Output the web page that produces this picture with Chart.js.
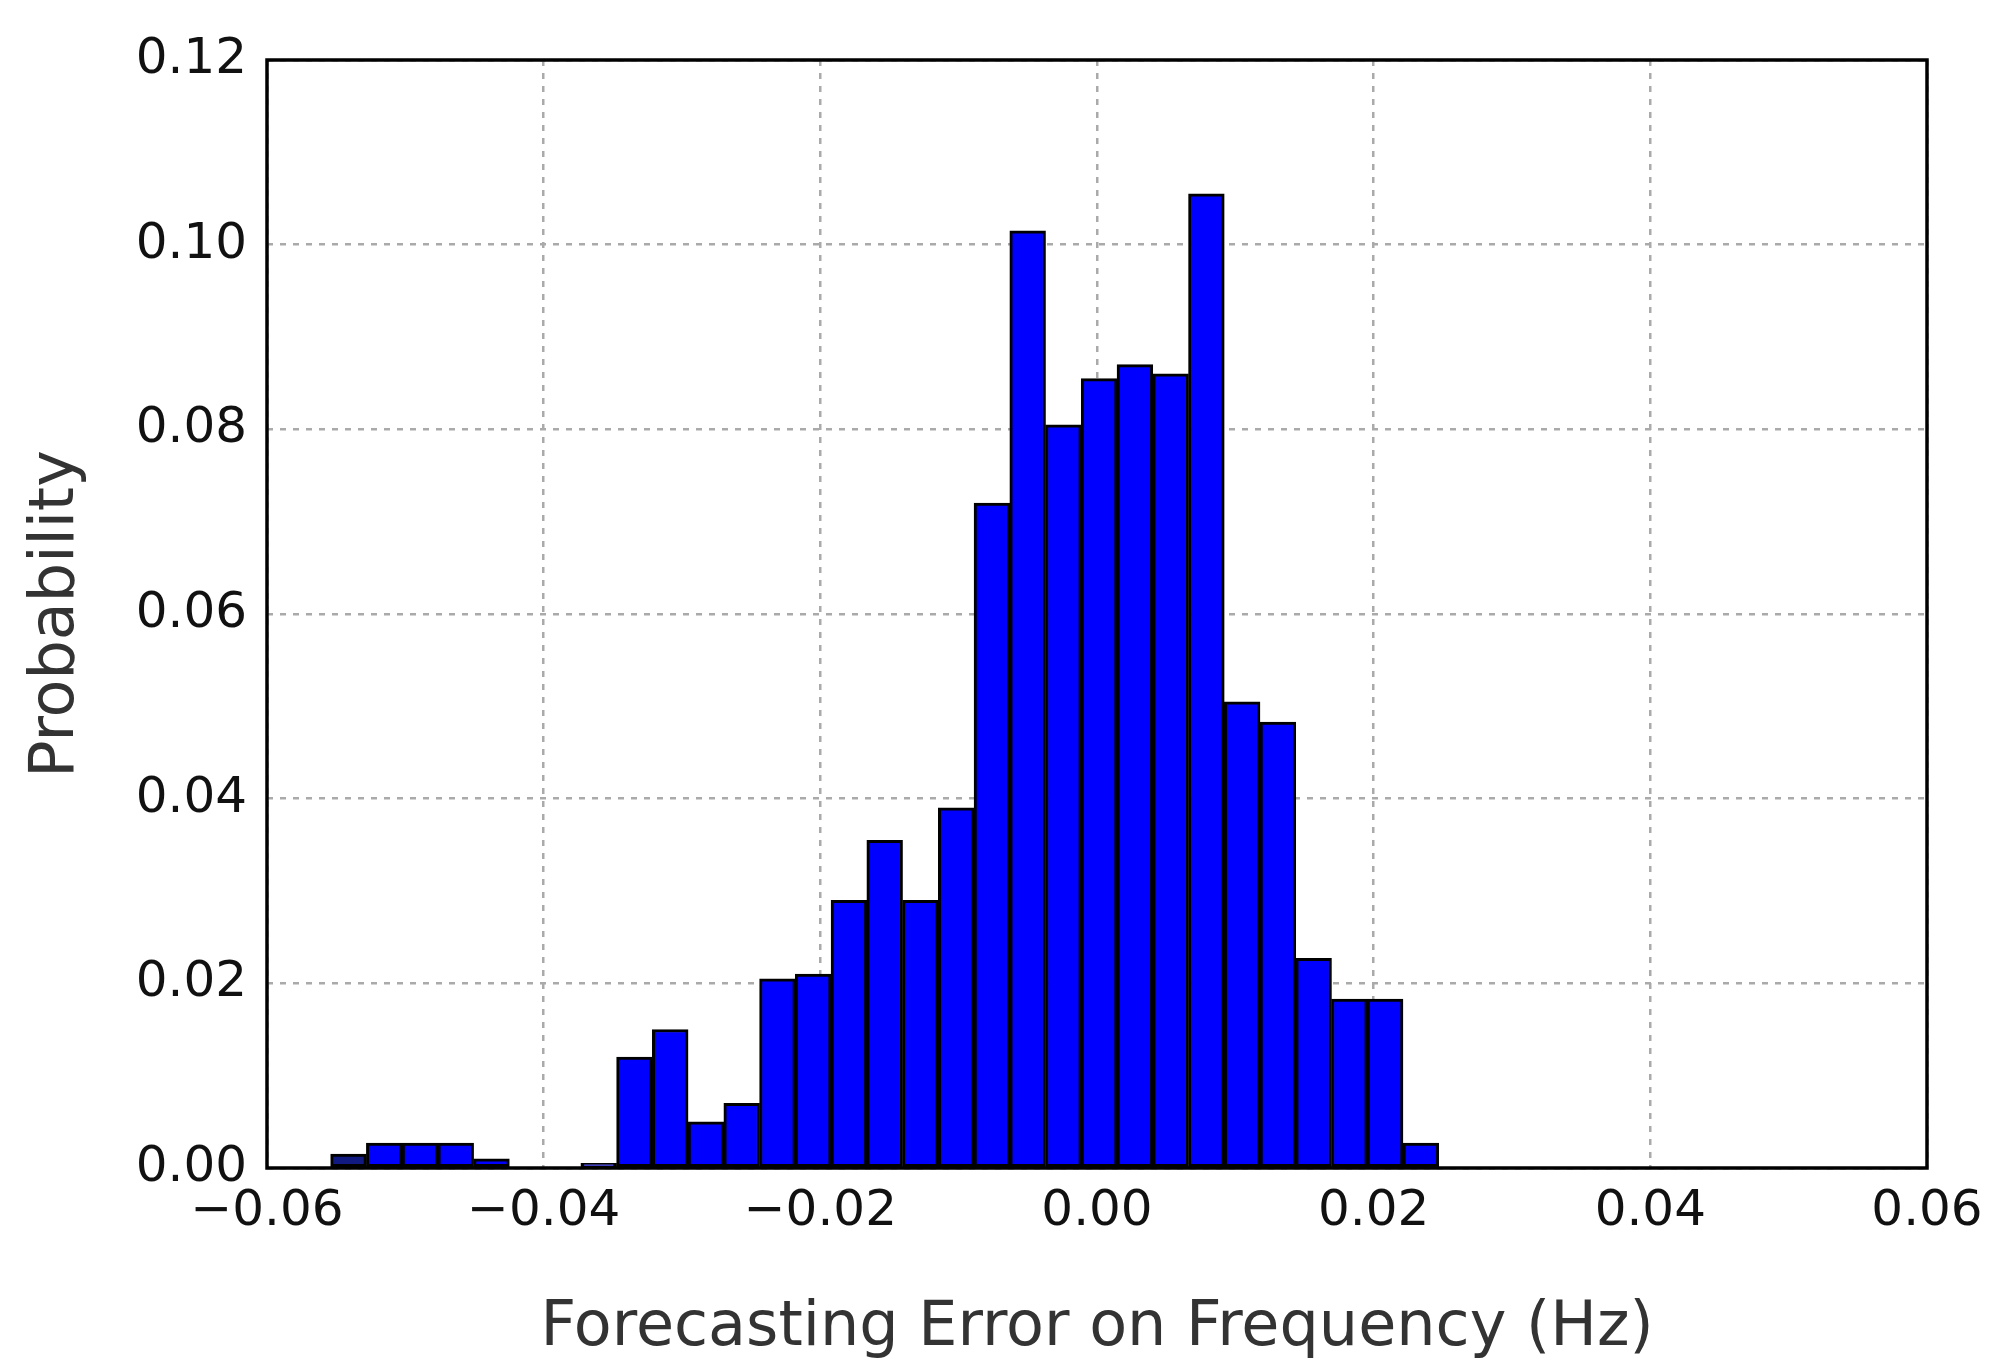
<!DOCTYPE html>
<html><head><meta charset="utf-8">
<script src="https://cdn.jsdelivr.net/npm/chart.js@4"></script>
<style>html,body{margin:0;padding:0;background:#fff}#w{width:2002px;height:1370px}</style>
</head><body><div id="w"><canvas id="c"></canvas></div>
<script>
const binStart = -0.0554;
const binWidth = 0.002584;
const probabilities = [0.0015,0.0027,0.0027,0.0027,0.001,0,0,0.0005,0.012,0.015,0.005,0.007,0.0205,0.021,0.029,0.0355,0.029,0.039,0.072,0.1015,0.0805,0.0855,0.087,0.086,0.1055,0.0505,0.0483,0.0227,0.0183,0.0183,0.0027];
const xTicks = [-0.06,-0.04,-0.02,0,0.02,0.04,0.06];
const yTicks = [0,0.02,0.04,0.06,0.08,0.10,0.12];

const pts = probabilities.map((p,i)=>({x: binStart + binWidth*(i+0.5), y: p}));
const colors = probabilities.map((p,i)=> i===0 ? '#101a80' : '#0000ff');
const font = {family:'DejaVu Sans', size:50};
const frame = {id:'frame', afterDatasetsDraw(ch){const a=ch.chartArea,c=ch.ctx;c.save();c.strokeStyle='#000';c.lineWidth=3.5;c.strokeRect(a.left,a.top,a.right-a.left,a.bottom-a.top);c.restore();}};
new Chart(document.getElementById('c'),{
 type:'bar',
 data:{datasets:[{data:pts,backgroundColor:colors,borderColor:'#000',borderWidth:3,barPercentage:1,categoryPercentage:1,borderSkipped:false,grouped:false}]},
 options:{responsive:true,maintainAspectRatio:false,animation:false,
  layout:{padding:{top:60,right:75,left:0,bottom:0}},
  plugins:{legend:{display:false},tooltip:{enabled:false}},
  scales:{
   x:{type:'linear',min:-0.06,max:0.06,offset:false,
    afterBuildTicks(s){s.ticks=xTicks.map(v=>({value:v}));},
    afterFit(s){s.height=202;},
    grid:{color:'#aaa',lineWidth:2.5,tickLength:0,offset:false},border:{display:false,dash:[6,7]},
    ticks:{font,color:'#111',maxRotation:0,padding:14,callback:v=>(v<0?'\u2212':'')+Math.abs(v).toFixed(2)},
    title:{display:true,text:'Forecasting Error on Frequency (Hz)',font:{family:'DejaVu Sans',size:62},color:'#333',padding:{top:8}}},
   y:{min:0,max:0.12,
    afterBuildTicks(s){s.ticks=yTicks.map(v=>({value:v}));},
    afterFit(s){s.width=267;},
    grid:{color:'#aaa',lineWidth:2.5,tickLength:0,offset:false},border:{display:false,dash:[6,7]},
    ticks:{font,color:'#111',padding:20,callback:v=>v.toFixed(2)},
    title:{display:true,text:'Probability',font:{family:'DejaVu Sans',size:62},color:'#333',padding:{top:20,bottom:0}}}
  }},
 plugins:[frame]
});
</script></body></html>
